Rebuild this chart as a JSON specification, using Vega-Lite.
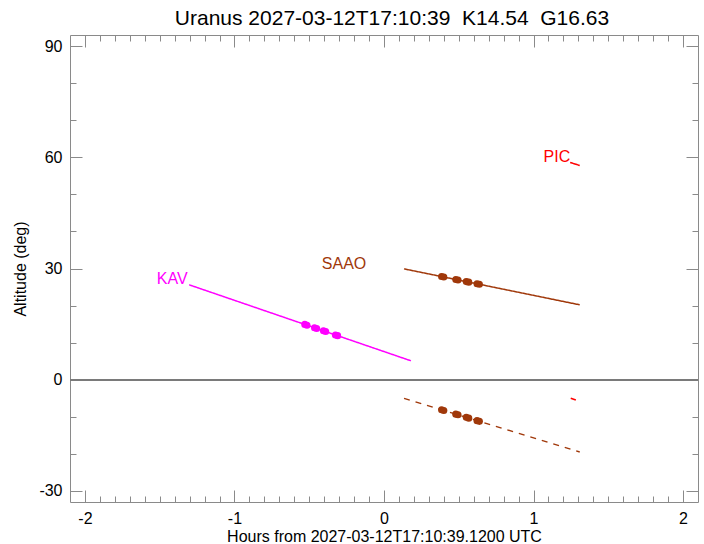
{
  "$schema": "https://vega.github.io/schema/vega-lite/v6.json",
  "width": 628,
  "height": 467,
  "autosize": {"type": "none"},
  "padding": {"left": 70, "top": 35, "right": 6, "bottom": 42},
  "background": "white",
  "config": {
    "view": {"stroke": "#8a8a8a", "strokeWidth": 1},
    "font": "Liberation Sans",
    "axis": {"grid": false, "domain": false, "tickColor": "#8a8a8a", "labelColor": "black", "titleColor": "black", "labelFont": "Liberation Sans", "titleFont": "Liberation Sans", "labelFontSize": 16, "titleFontSize": 16, "titleFontWeight": "normal", "labelOverlap": false, "labelFlush": false}
  },
  "title": {"text": "Uranus 2027-03-12T17:10:39\u00a0 K14.54\u00a0 G16.63", "font": "Liberation Sans", "fontSize": 21, "fontWeight": "normal", "color": "black", "anchor": "middle", "offset": 6, "dx": 8},
  "data": {"values": [
    {"type": "line", "site": "KAV", "kind": "alt", "x": -1.303, "y": 25.6},
    {"type": "line", "site": "KAV", "kind": "alt", "x": 0.18, "y": 5.1},
    {"type": "line", "site": "SAAO", "kind": "alt", "x": 0.134, "y": 29.9},
    {"type": "line", "site": "SAAO", "kind": "alt", "x": 1.309, "y": 20.2},
    {"type": "line", "site": "SAAO", "kind": "aux", "x": 0.134, "y": -5.04},
    {"type": "line", "site": "SAAO", "kind": "aux", "x": 1.309, "y": -19.5},
    {"type": "line", "site": "PIC", "kind": "alt", "x": 1.245, "y": 58.6},
    {"type": "line", "site": "PIC", "kind": "alt", "x": 1.309, "y": 57.8},
    {"type": "line", "site": "PIC", "kind": "aux", "x": 1.249, "y": -5.0},
    {"type": "line", "site": "PIC", "kind": "aux", "x": 1.283, "y": -5.5},
    {"type": "dot", "site": "KAV", "kind": "alt", "x": -0.53, "y": 14.92},
    {"type": "dot", "site": "KAV", "kind": "alt", "x": -0.515, "y": 14.71},
    {"type": "dot", "site": "KAV", "kind": "alt", "x": -0.465, "y": 14.02},
    {"type": "dot", "site": "KAV", "kind": "alt", "x": -0.45, "y": 13.81},
    {"type": "dot", "site": "KAV", "kind": "alt", "x": -0.405, "y": 13.19},
    {"type": "dot", "site": "KAV", "kind": "alt", "x": -0.39, "y": 12.98},
    {"type": "dot", "site": "KAV", "kind": "alt", "x": -0.325, "y": 12.08},
    {"type": "dot", "site": "KAV", "kind": "alt", "x": -0.31, "y": 11.88},
    {"type": "dot", "site": "SAAO", "kind": "alt", "x": 0.385, "y": 27.83},
    {"type": "dot", "site": "SAAO", "kind": "alt", "x": 0.4, "y": 27.7},
    {"type": "dot", "site": "SAAO", "kind": "alt", "x": 0.48, "y": 27.04},
    {"type": "dot", "site": "SAAO", "kind": "alt", "x": 0.495, "y": 26.92},
    {"type": "dot", "site": "SAAO", "kind": "alt", "x": 0.55, "y": 26.46},
    {"type": "dot", "site": "SAAO", "kind": "alt", "x": 0.567, "y": 26.32},
    {"type": "dot", "site": "SAAO", "kind": "alt", "x": 0.622, "y": 25.87},
    {"type": "dot", "site": "SAAO", "kind": "alt", "x": 0.638, "y": 25.74},
    {"type": "dot", "site": "SAAO", "kind": "aux", "x": 0.385, "y": -8.13},
    {"type": "dot", "site": "SAAO", "kind": "aux", "x": 0.4, "y": -8.31},
    {"type": "dot", "site": "SAAO", "kind": "aux", "x": 0.48, "y": -9.3},
    {"type": "dot", "site": "SAAO", "kind": "aux", "x": 0.495, "y": -9.48},
    {"type": "dot", "site": "SAAO", "kind": "aux", "x": 0.55, "y": -10.16},
    {"type": "dot", "site": "SAAO", "kind": "aux", "x": 0.567, "y": -10.37},
    {"type": "dot", "site": "SAAO", "kind": "aux", "x": 0.622, "y": -11.05},
    {"type": "dot", "site": "SAAO", "kind": "aux", "x": 0.638, "y": -11.24},
    {"type": "label", "site": "KAV", "kind": "alt", "x": -1.416, "y": 27.2},
    {"type": "label", "site": "SAAO", "kind": "alt", "x": -0.267, "y": 31.3},
    {"type": "label", "site": "PIC", "kind": "alt", "x": 1.156, "y": 60.1}
  ]},
  "resolve": {"axis": {"x": "independent", "y": "independent"}},
  "layer": [
    {
      "transform": [{"filter": "datum.type == 'line'"}],
      "mark": {"type": "line", "strokeWidth": 1.5, "clip": true},
      "encoding": {
        "x": {"field": "x", "type": "quantitative", "scale": {"domain": [-2.1, 2.1], "nice": false, "zero": false},
          "axis": {"orient": "bottom", "values": [-2, -1.9, -1.8, -1.7, -1.6, -1.5, -1.4, -1.3, -1.2, -1.1, -1, -0.9, -0.8, -0.7, -0.6, -0.5, -0.4, -0.3, -0.2, -0.1, 0, 0.1, 0.2, 0.3, 0.4, 0.5, 0.6, 0.7, 0.8, 0.9, 1, 1.1, 1.2, 1.3, 1.4, 1.5, 1.6, 1.7, 1.8, 1.9, 2],
            "labelExpr": "abs(datum.value - round(datum.value)) < 0.001 ? '' + round(datum.value) : ''",
            "tickSize": {"condition": {"test": "abs(datum.value - round(datum.value)) < 0.001", "value": -12}, "value": -6},
            "labelPadding": 20,
            "title": "Hours from 2027-03-12T17:10:39.1200 UTC", "titlePadding": -4}},
        "y": {"field": "y", "type": "quantitative", "scale": {"domain": [-33, 93], "nice": false, "zero": false},
          "axis": {"orient": "left", "values": [-30, -20, -10, 0, 10, 20, 30, 40, 50, 60, 70, 80, 90],
            "labelExpr": "datum.value % 30 == 0 ? '' + datum.value : ''",
            "tickSize": {"condition": {"test": "datum.value % 30 == 0", "value": -12}, "value": -6},
            "labelPadding": 20,
            "title": "Altitude (deg)", "titlePadding": 10}},
        "color": {"field": "site", "type": "nominal", "scale": {"domain": ["KAV", "SAAO", "PIC"], "range": ["#ff00ff", "#a0380a", "#ff0000"]}, "legend": null},
        "strokeDash": {"field": "kind", "type": "nominal", "scale": {"domain": ["alt", "aux"], "range": [[1, 0], [6, 6]]}, "legend": null},
        "detail": {"field": "kind"}
      }
    },
    {
      "transform": [{"filter": "datum.type == 'dot'"}],
      "mark": {"type": "circle", "size": 50, "opacity": 1},
      "encoding": {
        "x": {"field": "x", "type": "quantitative", "axis": null},
        "y": {"field": "y", "type": "quantitative", "axis": null},
        "color": {"field": "site", "type": "nominal", "legend": null}
      }
    },
    {
      "transform": [{"filter": "datum.type == 'label'"}],
      "mark": {"type": "text", "fontSize": 16, "font": "Liberation Sans"},
      "encoding": {
        "x": {"field": "x", "type": "quantitative",
          "axis": {"orient": "top", "values": [-2, -1.9, -1.8, -1.7, -1.6, -1.5, -1.4, -1.3, -1.2, -1.1, -1, -0.9, -0.8, -0.7, -0.6, -0.5, -0.4, -0.3, -0.2, -0.1, 0, 0.1, 0.2, 0.3, 0.4, 0.5, 0.6, 0.7, 0.8, 0.9, 1, 1.1, 1.2, 1.3, 1.4, 1.5, 1.6, 1.7, 1.8, 1.9, 2],
            "labels": false, "title": null,
            "tickSize": {"condition": {"test": "abs(datum.value - round(datum.value)) < 0.001", "value": -12}, "value": -6}}},
        "y": {"field": "y", "type": "quantitative",
          "axis": {"orient": "right", "values": [-30, -20, -10, 0, 10, 20, 30, 40, 50, 60, 70, 80, 90],
            "labels": false, "title": null,
            "tickSize": {"condition": {"test": "datum.value % 30 == 0", "value": -12}, "value": -6}}},
        "text": {"field": "site"},
        "color": {"field": "site", "type": "nominal", "legend": null}
      }
    },
    {
      "mark": {"type": "rule", "color": "#7a7a7a", "strokeWidth": 1},
      "encoding": {"y": {"datum": 0, "type": "quantitative", "axis": null}}
    }
  ]
}
